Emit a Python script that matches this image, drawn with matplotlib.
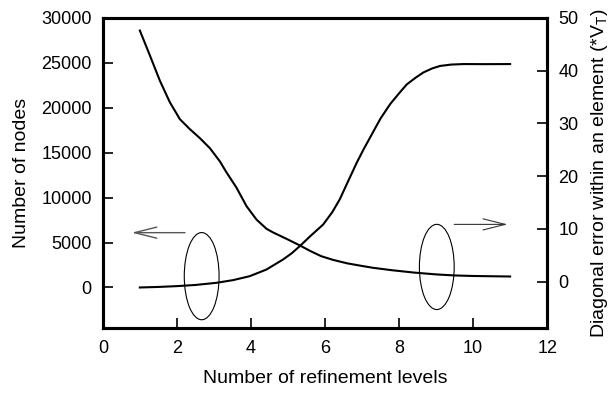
import matplotlib
matplotlib.use("Agg")
import matplotlib.pyplot as plt
from matplotlib.patches import Ellipse, FancyArrowPatch

plt.rcParams["font.family"] = ["Liberation Sans", "DejaVu Sans"]
plt.rcParams["mathtext.fontset"] = "custom"
plt.rcParams["mathtext.rm"] = "Liberation Sans"

# number of nodes vs refinement levels (left axis)
nodes_x = [1.0, 1.5, 2.0, 2.5, 3.07, 3.52, 3.97, 4.42, 4.87, 5.1, 5.32, 5.6, 5.95, 6.2, 6.4, 6.6,
           6.86, 7.04, 7.3, 7.5, 7.76, 8.0, 8.21, 8.45, 8.66, 8.9, 9.11, 9.4, 9.74, 10.3, 11.0]
nodes_y = [0, 60, 150, 280, 520, 820, 1260, 2000, 3120, 3800, 4600, 5700, 7000, 8400, 9810, 11600,
           13900, 15350, 17300, 18800, 20400, 21600, 22600, 23350, 23930, 24380, 24650, 24800, 24860, 24850, 24860]

# diagonal error vs refinement levels (right axis)
err_x = [1.0, 1.27, 1.54, 1.81, 2.08, 2.35, 2.62, 2.89, 3.16, 3.34, 3.61, 3.88, 4.15, 4.42, 4.6, 4.96,
         5.32, 5.6, 5.9, 6.22, 6.6, 7.0, 7.3, 7.8, 8.4, 9.0, 9.5, 10.0, 10.5, 11.0]
err_y = [47.6, 42.9, 38.1, 34.0, 30.8, 28.9, 27.2, 25.3, 22.8, 20.7, 17.8, 14.3, 11.75, 10.0, 9.3, 8.1,
         6.85, 5.8, 4.8, 4.1, 3.45, 2.95, 2.6, 2.15, 1.7, 1.35, 1.15, 1.05, 1.0, 0.95]

x_ticks = [0, 2, 4, 6, 8, 10, 12]
left_ticks = [0, 5000, 10000, 15000, 20000, 25000, 30000]
right_ticks = [0, 10, 20, 30, 40, 50]

fig = plt.figure(figsize=(6.12, 3.97), dpi=100)
ax1 = fig.add_axes([0.168, 0.174, 0.726, 0.781])
ax2 = ax1.twinx()

ax1.plot(nodes_x, nodes_y, color="black", lw=1.5)
ax2.plot(err_x, err_y, color="black", lw=1.5)

ax1.set_xlim(0, 12)
ax1.set_ylim(-4500, 30000)
ax2.set_ylim(-8.8, 50)
ax1.set_xticks(x_ticks)
ax1.set_yticks(left_ticks)
ax2.set_yticks(right_ticks)

for ax in (ax1, ax2):
    for s in ax.spines.values():
        s.set_linewidth(2.2)
    ax.tick_params(direction="in", length=7, width=1.2, labelsize=13, pad=8)
ax1.tick_params(axis="x", pad=9)

ax1.set_xlabel("Number of refinement levels", fontsize=14, labelpad=9)
ax1.set_ylabel("Number of nodes", fontsize=14, labelpad=8)
ax2.set_ylabel("Diagonal error within an element (*V$_\\mathrm{T}$)", fontsize=14, labelpad=8)

# ellipses marking which curve goes with which axis
ax1.add_patch(Ellipse((2.67, 1260), 0.94, 9700, fill=False, lw=0.8, color="black"))
ax1.add_patch(Ellipse((9.02, 2285), 0.94, 9480, fill=False, lw=0.8, color="black"))

ax1.add_patch(FancyArrowPatch((2.22, 6100), (0.78, 6100), arrowstyle="->,head_length=1.6,head_width=0.4",
                              mutation_scale=10, color="#555555", lw=1.0, shrinkA=0, shrinkB=0))
ax1.add_patch(FancyArrowPatch((9.49, 7020), (10.93, 7020), arrowstyle="->,head_length=1.6,head_width=0.4",
                              mutation_scale=10, color="#333333", lw=0.8, shrinkA=0, shrinkB=0))

fig.savefig("out.png", dpi=100)
